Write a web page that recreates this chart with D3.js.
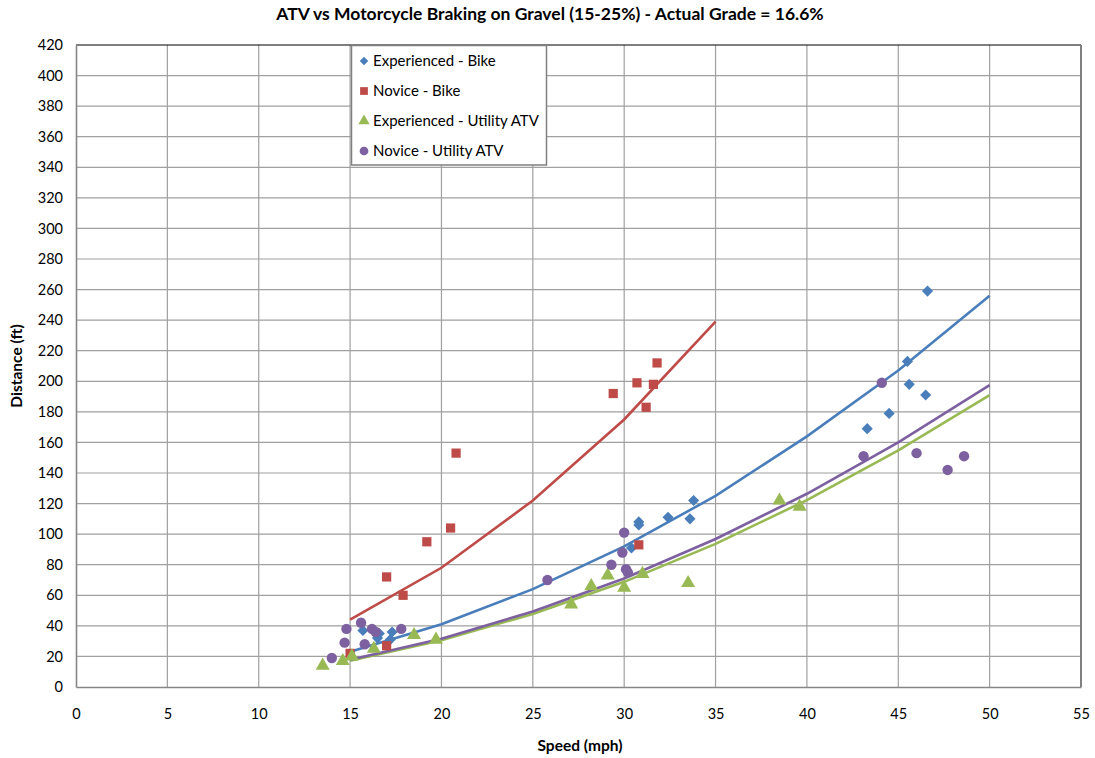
<!DOCTYPE html>
<html>
<head>
<meta charset="utf-8">
<script src="https://cdn.jsdelivr.net/npm/d3@7"></script>
<style>
  html, body { margin: 0; padding: 0; background: #fff; }
  svg text { font-family: Lato, "Open Sans", sans-serif; fill: #000; }
</style>
</head>
<body>
<svg id="chart" width="1095" height="758"></svg>
<script>
// Braking distance observations (speed in mph, distance in ft)
const expBike = [
  [15.7, 37], [16.6, 35], [16.5, 32], [17.3, 36], [17.2, 31],
  [30.8, 108], [30.8, 106], [30.4, 91], [32.4, 111], [33.6, 110], [33.8, 122],
  [46.6, 259], [45.5, 213], [45.6, 198], [46.5, 191], [44.5, 179], [43.3, 169]
];
const novBike = [
  [15.0, 22], [17.0, 27], [17.0, 72], [17.9, 60], [19.2, 95], [20.5, 104], [20.8, 153],
  [29.4, 192], [30.7, 199], [31.6, 198], [31.2, 183], [31.8, 212], [30.8, 93]
];
const expATV = [
  [13.5, 14], [14.6, 17], [15.1, 20], [16.3, 25], [18.5, 34], [19.7, 31],
  [27.1, 54], [28.2, 66], [29.1, 73], [30.0, 65], [31.0, 74], [33.5, 68],
  [38.5, 122], [39.6, 118]
];
const novATV = [
  [14.0, 19], [14.8, 38], [14.7, 29], [15.6, 42], [15.8, 28], [16.2, 38], [16.4, 36], [17.8, 38],
  [25.8, 70], [30.0, 101], [29.9, 88], [29.3, 80], [30.1, 77], [30.2, 75],
  [44.1, 199], [43.1, 151], [46.0, 153], [47.7, 142], [48.6, 151]
];

// Fitted curves, sampled every 5 mph
const fitSpeeds = [15, 20, 25, 30, 35, 40, 45, 50];
const expBikeFit = [23, 41, 64, 92, 125, 164, 207, 256];
const novBikeFit = [44, 78, 122, 175, 239];
const expATVFit = [17.2, 30.6, 47.8, 68.8, 93.6, 122.3, 154.8, 191];
const novATVFit = [17.8, 31.6, 49.4, 71, 96.8, 126.4, 160, 197.5];

const xTicks = d3.range(0, 56, 5);
const yTicks = d3.range(0, 421, 20);

const seriesNames = ["Experienced - Bike", "Novice - Bike", "Experienced - Utility ATV", "Novice - Utility ATV"];
const colors = ["#4a7ebb", "#be4b48", "#98b954", "#7d60a0"];
// diamonds are squares turned 45 degrees
const symbols = [d3.symbolSquare, d3.symbolSquare, d3.symbolTriangle, d3.symbolCircle];
const rotations = [45, 0, 0, 0];

const titleText = "ATV vs Motorcycle Braking on Gravel (15-25%) - Actual Grade = 16.6%";

const svg = d3.select("#chart");
const m = { left: 76, right: 1081, top: 45, bottom: 687 };

const x = d3.scaleLinear().domain([0, 55]).range([m.left, m.right]);
const y = d3.scaleLinear().domain([0, 420]).range([m.bottom, m.top]);

// Gridlines
svg.append("g").selectAll("line").data(yTicks.filter(d => d > 0 && d < 420)).join("line")
  .attr("x1", m.left).attr("x2", m.right)
  .attr("y1", d => y(d)).attr("y2", d => y(d))
  .attr("stroke", "#a0a0a0").attr("stroke-width", 1.2);
svg.append("g").selectAll("line").data(xTicks.filter(d => d > 0 && d < 55)).join("line")
  .attr("y1", m.top).attr("y2", m.bottom)
  .attr("x1", d => x(d)).attr("x2", d => x(d))
  .attr("stroke", "#a0a0a0").attr("stroke-width", 1.2);

// Plot frame
svg.append("line").attr("x1", m.left).attr("x2", m.right).attr("y1", m.top).attr("y2", m.top)
  .attr("stroke", "#000").attr("stroke-width", 1.2);
svg.append("line").attr("x1", m.right).attr("x2", m.right).attr("y1", m.top).attr("y2", m.bottom)
  .attr("stroke", "#808080").attr("stroke-width", 2);

// Axes
const xAxis = svg.append("g").attr("transform", `translate(0,${m.bottom})`)
  .call(d3.axisBottom(x).tickValues(xTicks).tickSize(0).tickPadding(22));
const yAxis = svg.append("g").attr("transform", `translate(${m.left},0)`)
  .call(d3.axisLeft(y).tickValues(yTicks).tickSize(0).tickPadding(13));
[xAxis, yAxis].forEach(a => {
  a.select(".domain").attr("stroke", "#868686").attr("stroke-width", 1.6);
  a.selectAll("text").style("font-size", "14.5px").attr("fill", "#000");
});

// Trend lines
const line = d3.line().x(d => x(d[0])).y(d => y(d[1]));
const fits = [expBikeFit, novBikeFit, expATVFit, novATVFit];
fits.forEach((f, i) => {
  svg.append("path")
    .datum(f.map((v, j) => [fitSpeeds[j], v]))
    .attr("d", line)
    .attr("fill", "none")
    .attr("stroke", colors[i])
    .attr("stroke-width", 2.6);
});

// Markers
const sets = [expBike, novBike, expATV, novATV];
const sizes = [62, 85, 85, 85];
sets.forEach((s, i) => {
  svg.append("g").selectAll("path").data(s).join("path")
    .attr("transform", d => `translate(${x(d[0])},${y(d[1])}) rotate(${rotations[i]})`)
    .attr("d", d3.symbol().type(symbols[i]).size(sizes[i]))
    .attr("fill", colors[i]);
});

// Legend
const lg = svg.append("g");
lg.append("rect").attr("x", 351.5).attr("y", 45.5).attr("width", 195).attr("height", 119.5)
  .attr("fill", "#fff").attr("stroke", "#808080").attr("stroke-width", 1.5);
const legendSizes = [36, 60, 55, 60];
seriesNames.forEach((n, i) => {
  const cy = 61 + i * 30;
  lg.append("path").attr("transform", `translate(364,${cy}) rotate(${rotations[i]})`)
    .attr("d", d3.symbol().type(symbols[i]).size(legendSizes[i])).attr("fill", colors[i]);
  lg.append("text").attr("x", 373).attr("y", cy).attr("dy", "0.35em")
    .style("font-size", "15px").text(n);
});

// Titles
svg.append("text").attr("x", 550).attr("y", 20).attr("text-anchor", "middle")
  .style("font-size", "17.5px").style("font-weight", "bold").text(titleText);
svg.append("text").attr("x", 580).attr("y", 751).attr("text-anchor", "middle")
  .style("font-size", "15.5px").style("font-weight", "bold").text("Speed (mph)");
svg.append("text").attr("transform", "translate(22,366) rotate(-90)").attr("text-anchor", "middle")
  .style("font-size", "15.5px").style("font-weight", "bold").text("Distance (ft)");
</script>
</body>
</html>
